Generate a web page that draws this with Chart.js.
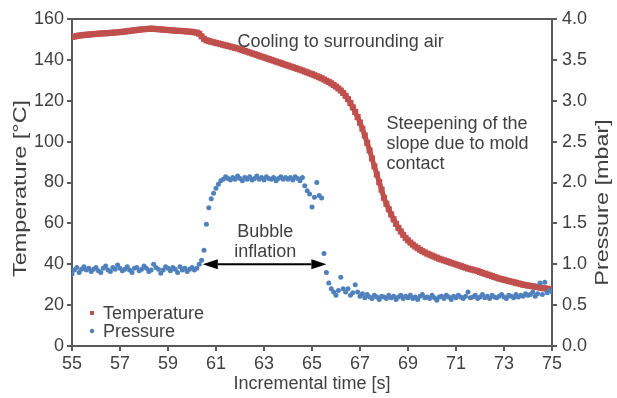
<!DOCTYPE html>
<html>
<head>
<meta charset="utf-8">
<script src="https://cdn.jsdelivr.net/npm/chart.js@4.4.1/dist/chart.umd.min.js"></script>
<style>
  body { margin: 0; background: #fff; }
  canvas { display: block; }
</style>
</head>
<body>
<canvas id="myChart" width="617" height="398"></canvas>
<script>
// sample grid: 55.0 s .. 75.0 s, one reading every 0.1 s
var tStart = 55, tStep = 0.1;

// mould temperature [°C]
var temperature = [
  151.2,151.4,151.7,151.9,152.0,152.2,152.3,152.4,152.5,152.6,
  152.7,152.8,152.9,153.0,153.0,153.1,153.2,153.3,153.4,153.5,
  153.6,153.7,153.9,154.0,154.2,154.3,154.5,154.6,154.8,154.9,
  155.0,155.1,155.2,155.3,155.2,155.1,155.0,154.9,154.8,154.7,
  154.6,154.5,154.4,154.3,154.2,154.2,154.1,154.0,153.9,153.8,
  153.7,153.5,153.3,152.8,151.5,150.3,149.6,149.2,148.9,148.6,
  148.3,148.0,147.7,147.4,147.1,146.8,146.5,146.2,145.9,145.6,
  145.2,144.8,144.4,144.0,143.6,143.2,142.8,142.4,142.0,141.6,
  141.2,140.8,140.4,140.0,139.6,139.2,138.8,138.4,138.0,137.6,
  137.2,136.8,136.4,136.0,135.6,135.2,134.8,134.3,133.9,133.4,
  133.0,132.5,132.0,131.5,131.0,130.4,129.8,129.2,128.5,127.7,
  126.9,126.0,125.0,123.8,122.4,120.8,118.9,116.8,114.5,112.0,
  109.3,106.3,103.0,99.4,95.7,91.8,87.9,84.0,80.2,76.5,
  72.5,69.6,66.9,64.4,62.0,59.8,57.8,56.0,54.4,52.9,
  51.7,50.6,49.6,48.7,47.9,47.1,46.4,45.8,45.2,44.7,
  44.2,43.7,43.2,42.7,42.3,41.9,41.5,41.1,40.7,40.3,
  39.9,39.5,39.1,38.7,38.3,37.9,37.6,37.3,37.0,36.7,
  36.2,35.8,35.4,35.0,34.6,34.2,33.8,33.4,33.0,32.7,
  32.4,32.1,31.8,31.5,31.2,30.9,30.6,30.3,30.0,29.8,
  29.6,29.4,29.2,29.0,28.8,28.6,28.4,28.2,28.0,27.8,
  27.6
];

// bubble pressure [mbar]
var pressure = [
  0.88,0.93,0.96,0.90,0.94,0.97,0.93,0.95,0.91,0.94,
  0.96,0.92,0.90,0.95,0.98,0.93,0.91,0.96,0.94,0.99,
  0.95,0.92,0.94,0.97,0.93,0.90,0.95,0.96,0.92,0.94,
  0.98,0.95,0.91,0.93,1.00,0.96,0.94,0.89,0.93,0.97,
  0.95,0.92,0.96,0.94,0.90,0.97,0.93,0.95,0.91,0.94,
  0.96,0.93,0.95,1.00,1.05,1.17,1.49,1.69,1.80,1.87,
  1.93,1.98,2.02,2.04,2.07,2.05,2.03,2.06,2.04,2.08,
  2.05,2.02,2.06,2.04,2.07,2.03,2.05,2.08,2.04,2.06,
  2.03,2.07,2.05,2.04,2.06,2.02,2.05,2.07,2.04,2.06,
  2.04,2.06,2.03,2.07,2.05,2.02,2.06,1.96,1.90,1.86,
  1.70,1.82,2.00,1.84,1.81,1.13,0.90,0.77,0.70,0.66,
  0.62,0.68,0.84,0.70,0.66,0.70,0.62,0.65,0.75,0.66,
  0.61,0.64,0.59,0.63,0.60,0.58,0.62,0.60,0.57,0.61,
  0.60,0.58,0.62,0.59,0.61,0.57,0.60,0.62,0.58,0.61,
  0.59,0.62,0.58,0.60,0.57,0.61,0.63,0.59,0.60,0.58,
  0.62,0.59,0.56,0.60,0.61,0.58,0.62,0.60,0.57,0.61,
  0.59,0.62,0.60,0.58,0.61,0.66,0.59,0.60,0.62,0.58,
  0.60,0.63,0.59,0.61,0.58,0.62,0.60,0.59,0.61,0.63,
  0.60,0.58,0.62,0.61,0.59,0.63,0.60,0.62,0.61,0.64,
  0.62,0.63,0.66,0.61,0.64,0.77,0.63,0.78,0.65,0.68,
  0.66
];

var xTicks = [55, 57, 59, 61, 63, 65, 67, 69, 71, 73, 75];
var tempTicks = [0, 20, 40, 60, 80, 100, 120, 140, 160];
var presTicks = [0, 0.5, 1, 1.5, 2, 2.5, 3, 3.5, 4];
var axisTitles = ["Incremental time [s]", "Temperature [°C]", "Pressure [mbar]"];

// notes on the plot: [time, temperature, text lines, alignment]
var notes = [
  [61.9, 148.7, ["Cooling to surrounding air"], "left"],
  [68.1, 108.6, ["Steepening of the", "slope due to mold", "contact"], "left"],
  [63.05, 55.8, ["Bubble", "inflation"], "center"]
];
var inflation = [60.45, 65.6, 40];   // start, end, temperature level of the arrow

var RED = "#c0504d", BLUE = "#4f81bd", AXIS = "#595959", TEXT = "#404040";
var FONT = "'Liberation Sans', Arial, sans-serif";

function toPoints(vals) {
  return vals.map(function (v, i) {
    return { x: Math.round((tStart + i * tStep) * 10) / 10, y: v };
  });
}

// rotated y titles, drawn stretched along their length
function sideTitle(ctx, text, x, y) {
  ctx.save();
  ctx.translate(x, y);
  ctx.rotate(-Math.PI / 2);
  ctx.scale(1.3, 1);
  ctx.textAlign = "center";
  ctx.textBaseline = "middle";
  ctx.fillText(text, 0, 0);
  ctx.restore();
}

// top edge of the frame, titles, text notes, arrow and legend
var decorations = {
  id: "decorations",
  afterDatasetsDraw: function (chart) {
    var ctx = chart.ctx, a = chart.chartArea;
    var xs = chart.scales.x, ys = chart.scales.y;
    ctx.save();
    ctx.strokeStyle = AXIS;
    ctx.lineWidth = 2;
    ctx.beginPath();
    ctx.moveTo(a.left - 1, a.top);
    ctx.lineTo(a.right + 1, a.top);
    ctx.stroke();

    ctx.fillStyle = TEXT;
    ctx.font = "18px " + FONT;
    sideTitle(ctx, axisTitles[1], 21, (a.top + a.bottom) / 2 + 6);
    sideTitle(ctx, axisTitles[2], chart.width - 14, (a.top + a.bottom) / 2 + 20);

    ctx.textBaseline = "middle";
    notes.forEach(function (n) {
      ctx.textAlign = n[3];
      var px = xs.getPixelForValue(n[0]), py = ys.getPixelForValue(n[1]);
      n[2].forEach(function (line, k) {
        ctx.fillText(line, px, py + k * 20);
      });
    });

    // double headed arrow
    var x1 = xs.getPixelForValue(inflation[0]);
    var x2 = xs.getPixelForValue(inflation[1]);
    var y = ys.getPixelForValue(inflation[2]);
    var head = 15, half = 5;
    ctx.strokeStyle = "#000";
    ctx.fillStyle = "#000";
    ctx.lineWidth = 2;
    ctx.beginPath();
    ctx.moveTo(x1 + head, y);
    ctx.lineTo(x2 - head, y);
    ctx.stroke();
    ctx.beginPath();
    ctx.moveTo(x1, y); ctx.lineTo(x1 + head, y - half); ctx.lineTo(x1 + head, y + half);
    ctx.closePath(); ctx.fill();
    ctx.beginPath();
    ctx.moveTo(x2, y); ctx.lineTo(x2 - head, y - half); ctx.lineTo(x2 - head, y + half);
    ctx.closePath(); ctx.fill();

    // legend in the lower left corner
    var lx = a.left + 20, ly = a.bottom - 33;
    ctx.textAlign = "left";
    chart.data.datasets.slice().reverse().forEach(function (ds, k) {
      var yy = ly + k * 18;
      ctx.fillStyle = ds.backgroundColor;
      if (ds.pointStyle === "rect") {
        ctx.fillRect(lx - 2, yy - 2, 4, 4);
      } else {
        ctx.beginPath();
        ctx.arc(lx, yy, 2.2, 0, Math.PI * 2);
        ctx.fill();
      }
      ctx.fillStyle = TEXT;
      ctx.fillText(ds.label, lx + 11, yy + 1);
    });
    ctx.restore();
  }
};

function setTicks(list) {
  return function (scale) {
    scale.ticks = list.map(function (v) { return { value: v }; });
  };
}

const ctx = document.getElementById("myChart");
const myChart = new Chart(ctx, {
  type: "scatter",
  data: {
    datasets: [
      {
        label: "Pressure",
        data: toPoints(pressure),
        yAxisID: "y2",
        order: 0,
        pointStyle: "circle",
        pointRadius: 2.5,
        pointBorderWidth: 0,
        backgroundColor: BLUE,
        borderColor: BLUE
      },
      {
        label: "Temperature",
        data: toPoints(temperature),
        yAxisID: "y",
        order: 1,
        showLine: true,
        borderWidth: 5,
        pointStyle: "rect",
        pointRadius: 4.3,
        pointBorderWidth: 0,
        backgroundColor: RED,
        borderColor: RED
      }
    ]
  },
  options: {
    responsive: false,
    animation: false,
    layout: { padding: { top: 19, right: 0, left: 0, bottom: 0 } },
    plugins: {
      legend: { display: false },
      tooltip: { enabled: false }
    },
    scales: {
      x: {
        type: "linear",
        min: 55, max: 75,
        afterBuildTicks: setTicks(xTicks),
        afterFit: function (s) { s.height = 52; },
        grid: { drawOnChartArea: false, tickLength: 5, color: AXIS, lineWidth: 2 },
        border: { color: AXIS, width: 2 },
        ticks: { padding: 2, color: TEXT, font: { size: 18, family: FONT }, maxRotation: 0 },
        title: { display: true, text: axisTitles[0], color: TEXT, font: { size: 18, family: FONT }, padding: { top: 0, bottom: 3 } }
      },
      y: {
        position: "left",
        min: 0, max: 160,
        afterBuildTicks: setTicks(tempTicks),
        afterFit: function (s) { s.width = 72; },
        grid: { drawOnChartArea: false, tickLength: 5, color: AXIS, lineWidth: 2 },
        border: { color: AXIS, width: 2 },
        ticks: { padding: 3, color: TEXT, font: { size: 18, family: FONT } }
      },
      y2: {
        position: "right",
        min: 0, max: 4,
        afterBuildTicks: setTicks(presTicks),
        afterFit: function (s) { s.width = 65; },
        grid: { drawOnChartArea: false, tickLength: 5, color: AXIS, lineWidth: 2 },
        border: { color: AXIS, width: 2 },
        ticks: {
          padding: 5, color: TEXT, font: { size: 18, family: FONT },
          callback: function (v) { return Number(v).toFixed(1); }
        }
      }
    }
  },
  plugins: [decorations]
});
</script>
</body>
</html>
